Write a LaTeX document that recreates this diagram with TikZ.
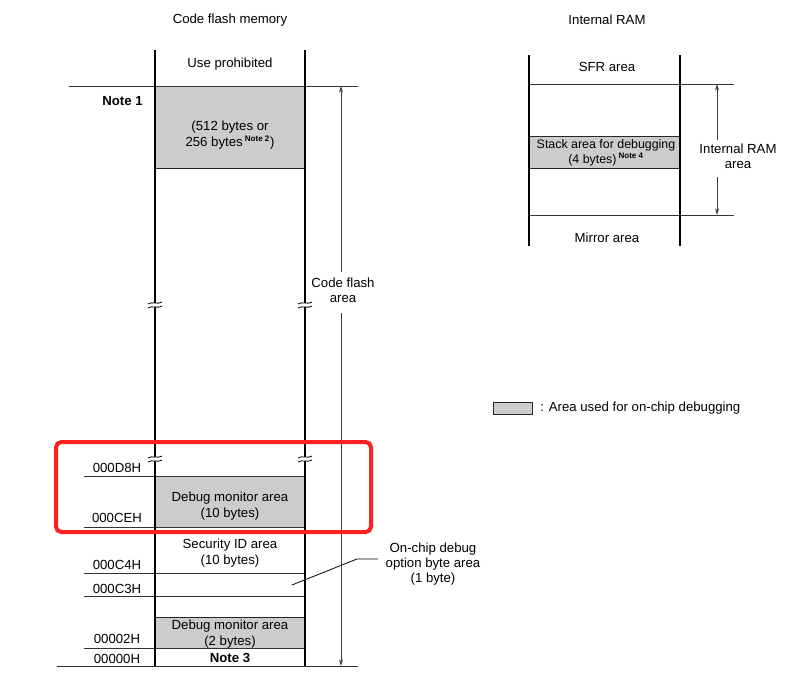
\documentclass[tikz,border=0pt]{standalone}
\usepackage{fontspec}
\setmainfont{Liberation Sans}
\usetikzlibrary{arrows.meta}
\definecolor{dbg}{HTML}{CCCCCC}
\definecolor{hl}{HTML}{FF2020}
\tikzset{
  lbl/.style={font=\fontsize{9.9}{11.5}\selectfont, inner sep=0pt, align=center},
  bold/.style={lbl, font=\fontsize{9.9}{11.5}\selectfont\bfseries},
  col/.style={line width=0.85pt, black},
  hline/.style={line width=0.65pt, black!80},
  dim/.style={line width=0.6pt, black!75, -{Stealth[length=5pt,width=3pt]}},
  dbox/.style={fill=dbg, draw=black!85, line width=0.65pt},
  brk/.style={line width=0.6pt, black},
  lead/.style={line width=0.6pt, black}
}
\newcommand{\nt}[1]{\,\textsuperscript{\fontsize{6}{6}\selectfont\bfseries #1}}
\begin{document}
\begin{tikzpicture}[x=0.75pt,y=-0.75pt]
\useasboundingbox (0,0) rectangle (798,676);
% ---------- code flash ----------
\node[lbl] (t1) at (230,20) {Code flash memory};
\node[lbl] (up) at (230,64) {Use prohibited};
% gray areas
\path[dbox] (155,86) rectangle (305,168);
\path[dbox] (155,476) rectangle (305,527);
\path[dbox] (155,617) rectangle (305,648);
\node[lbl] (n512) at (230,135) {(512 bytes or\\256 bytes\nt{Note 2})};
\node[bold, anchor=east] (n1) at (143,101) {Note 1};
% horizontal lines
\draw[hline] (69,86) -- (358,86);
\draw[hline] (84,476) -- (305,476);
\draw[hline] (84,527) -- (305,527);
\draw[hline] (84,573) -- (305,573);
\draw[hline] (84,596) -- (305,596);
\draw[hline] (84,648) -- (305,648);
\draw[hline] (57,666) -- (358,666);
% vertical column lines with breaks
\foreach \xx in {155,305}{
  \draw[col] (\xx,50) -- (\xx,303);
  \draw[col] (\xx,307) -- (\xx,457);
  \draw[col] (\xx,461) -- (\xx,666);
  \foreach \yy in {303,307,457,461}{
    \draw[brk] (\xx-7,\yy+1) .. controls (\xx-3,\yy-2) and (\xx+3,\yy+2) .. (\xx+7,\yy-1);
  }
}
% texts in code flash
\node[lbl] (a1) at (117,468) {000D8H};
\node[lbl] (a2) at (117,518) {000CEH};
\node[lbl] (a3) at (117,565) {000C4H};
\node[lbl] (a4) at (117,589) {000C3H};
\node[lbl] (a5) at (117,639) {00002H};
\node[lbl] (a6) at (117,659) {00000H};
\node[lbl] (dm1) at (230,506) {Debug monitor area\\(10 bytes)};
\node[lbl] (sid) at (230,553) {Security ID area\\(10 bytes)};
\node[lbl] (dm2) at (230,634) {Debug monitor area\\(2 bytes)};
\node[bold] (n3) at (230,658) {Note 3};
% code flash area dimension
\node[lbl] (cfa) at (343,290) {Code flash\\area};
\coordinate (cft) at (341,86);
\coordinate (cfb) at (341,666);
\draw[dim] (341,272) -- (cft);
\draw[dim] (341,313) -- (cfb);
% option byte leader
\node[lbl] (ocd) at (433,564) {On-chip debug\\option byte area\\(1 byte)};
\coordinate (ob) at (292,585);
\coordinate (obk) at (357,559);
\draw[lead] (ob) -- (obk) -- (378,559);
% highlight
\draw[hl, line width=3pt, rounded corners=4pt] (56,442) rectangle (371,532);
% ---------- internal RAM ----------
\node[lbl] (t2) at (607,20) {Internal RAM};
\path[dbox] (529,136) rectangle (680,168);
\draw[hline] (529,84) -- (734,84);
\draw[hline] (529,215) -- (734,215);
\draw[col] (529,55) -- (529,246);
\draw[col] (680,55) -- (680,246);
\node[lbl] (sfr) at (607,67) {SFR area};
\node[lbl] (mir) at (607,238) {Mirror area};
\node[lbl, font=\fontsize{9.3}{11}\selectfont] (stk) at (606,153) {Stack area for debugging\\(4 bytes)\nt{Note 4}};
\node[lbl] (ira) at (738,156) {Internal RAM\\area};
\coordinate (irt) at (717,84);
\coordinate (irb) at (717,215);
\draw[dim] (717,140) -- (irt);
\draw[dim] (717,177) -- (irb);
% ---------- legend ----------
\path[dbox] (493,402) rectangle (532,414);
\node[lbl, anchor=west] (leg) at (540,408) {: Area used for on-chip debugging};
\end{tikzpicture}
\end{document}
